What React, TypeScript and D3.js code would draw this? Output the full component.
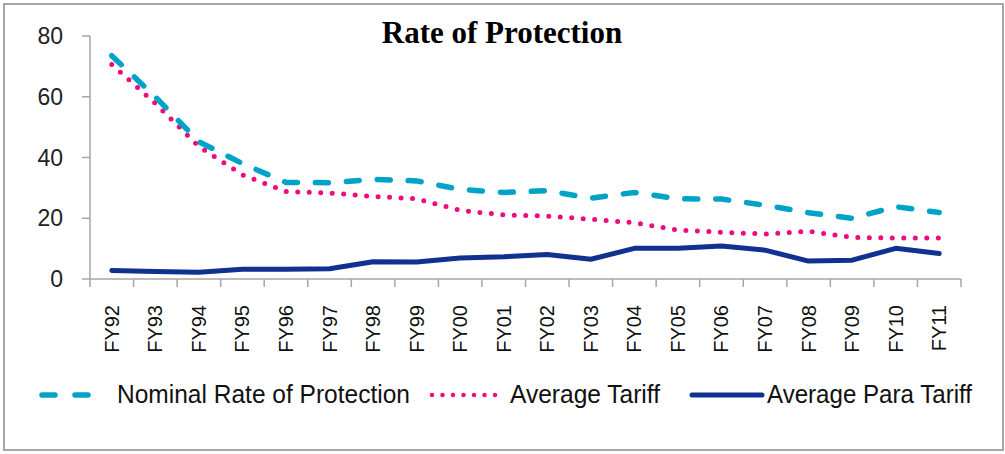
import React from "react";
import * as d3 from "d3";

const years = ["FY92", "FY93", "FY94", "FY95", "FY96", "FY97", "FY98", "FY99", "FY00", "FY01",
  "FY02", "FY03", "FY04", "FY05", "FY06", "FY07", "FY08", "FY09", "FY10", "FY11"];
const nominal = [73.5, 60, 45.2, 38, 31.8, 31.7, 32.8, 32.3, 29.5, 28.5,
  29.1, 26.6, 28.5, 26.4, 26.3, 24.3, 21.8, 20.0, 23.8, 21.9];
const avgTariff = [70.6, 57.8, 43.6, 34.3, 28.8, 28.3, 27.2, 26.4, 22.6, 21.1,
  20.7, 19.7, 18.5, 16.1, 15.4, 14.8, 15.7, 13.7, 13.5, 13.5];
const paraTariff = [2.8, 2.5, 2.2, 3.2, 3.2, 3.4, 5.7, 5.6, 6.9, 7.3,
  8.1, 6.5, 10.1, 10.1, 10.9, 9.5, 5.9, 6.2, 10.1, 8.4];
const yTicks = [0, 20, 40, 60, 80];

const W = 1005;
const H = 454;
const left = 90, right = 961, top = 36, bottom = 279;
const axisColor = "#a6a6a6";
const sans = "'Liberation Sans', Arial, sans-serif";

export default function App() {
  const x = d3.scaleBand<string>().domain(years).range([left, right]);
  const y = d3.scaleLinear().domain([0, 80]).range([bottom, top]);
  const cx = (d: string) => (x(d) as number) + x.bandwidth() / 2;

  const line = (vals: number[]) =>
    d3.line<number>().x((_, i) => cx(years[i])).y((v) => y(v))(vals) as string;

  const bounds = years.map((d) => x(d) as number).concat([right]);

  return (
    <svg width={W} height={H} style={{ position: "absolute", left: 0, top: 0, background: "#fff" }}>
      <rect x={4} y={4} width={999} height={446} fill="#fff" stroke={axisColor} strokeWidth={2} />
      <text x={502} y={43} textAnchor="middle" fontFamily="'Liberation Serif', 'Times New Roman', serif"
        fontWeight="bold" fontSize={31}>Rate of Protection</text>

      {/* y axis */}
      <line x1={left} x2={left} y1={top} y2={bottom} stroke={axisColor} strokeWidth={1.5} />
      {yTicks.map((t) => (
        <g key={t}>
          <line x1={left - 8} x2={left} y1={y(t)} y2={y(t)} stroke={axisColor} strokeWidth={1.5} />
          <text x={63} y={y(t) + 8} textAnchor="end" fontFamily={sans} fontSize={23} fill="#222">{t}</text>
        </g>
      ))}

      {/* x axis */}
      <line x1={left} x2={right} y1={bottom} y2={bottom} stroke={axisColor} strokeWidth={1.5} />
      {bounds.map((b, i) => (
        <line key={i} x1={b} x2={b} y1={bottom} y2={bottom + 8} stroke={axisColor} strokeWidth={1.5} />
      ))}
      {years.map((d) => (
        <text key={d} transform={`translate(${cx(d) + 7},305) rotate(-90)`} textAnchor="end"
          fontFamily={sans} fontSize={20} fill="#111">{d}</text>
      ))}

      {/* series */}
      <path d={line(paraTariff)} fill="none" stroke="#10318f" strokeWidth={5} strokeLinejoin="round" strokeLinecap="round" />
      <path d={line(avgTariff)} fill="none" stroke="#ee0c7d" strokeWidth={5} strokeDasharray="0 11.5" strokeLinecap="round" />
      <path d={line(nominal)} fill="none" stroke="#00a3c8" strokeWidth={5.5} strokeDasharray="13 18" strokeLinecap="round" />

      {/* legend */}
      <g fontFamily={sans} fontSize={25} fill="#111">
        <line x1={42} x2={92} y1={395} y2={395} stroke="#00a3c8" strokeWidth={5.5} strokeDasharray="13 20" strokeLinecap="round" />
        <text x={117} y={403} textLength={293} lengthAdjust="spacingAndGlyphs">Nominal Rate of Protection</text>
        <line x1={432} x2={503} y1={395} y2={395} stroke="#ee0c7d" strokeWidth={4.5} strokeDasharray="0 10.5" strokeLinecap="round" />
        <text x={510} y={403} textLength={150} lengthAdjust="spacingAndGlyphs">Average Tariff</text>
        <line x1={692} x2={762} y1={395} y2={395} stroke="#10318f" strokeWidth={5} strokeLinecap="round" />
        <text x={767} y={403} textLength={205} lengthAdjust="spacingAndGlyphs">Average Para Tariff</text>
      </g>
    </svg>
  );
}
